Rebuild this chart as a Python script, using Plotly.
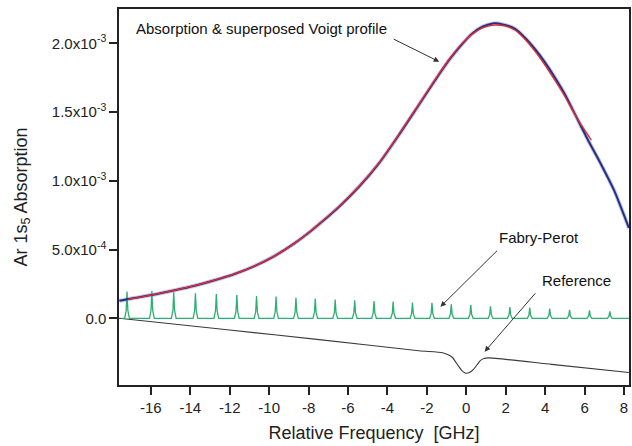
import plotly.graph_objects as go

# ---------------- data ----------------
# Measured absorption (blue)
abs_x = [-17.6, -17.15, -15.96, -14.79, -13.78, -12.77, -11.76, -10.74, -9.73, -8.72,
         -7.88, -7.46, -6.45, -5.44, -4.43, -3.42, -2.41, -1.40, -0.81, -0.3,
         0.29, 0.8, 1.4, 1.9, 2.48, 2.98, 3.5, 4.0, 4.5, 5.0,
         5.6, 6.2, 6.8, 7.5, 8.25]
abs_y = [1.27e-4, 1.40e-4, 1.69e-4, 2.04e-4, 2.37e-4, 2.77e-4, 3.22e-4, 3.80e-4, 4.53e-4, 5.45e-4,
         6.35e-4, 6.85e-4, 8.12e-4, 9.57e-4, 1.127e-3, 1.333e-3, 1.551e-3, 1.770e-3, 1.890e-3, 1.980e-3,
         2.070e-3, 2.120e-3, 2.145e-3, 2.135e-3, 2.105e-3, 2.040e-3, 1.955e-3, 1.860e-3, 1.750e-3, 1.630e-3,
         1.460e-3, 1.290e-3, 1.130e-3, 9.30e-4, 6.57e-4]

# Superposed Voigt profile (red)
voigt_x = [-17.15, -15.96, -14.79, -13.78, -12.77, -11.76, -10.74, -9.73, -8.72, -7.88,
           -7.46, -6.45, -5.44, -4.43, -3.42, -2.41, -1.40, -0.81, -0.3, 0.29,
           0.8, 1.4, 1.9, 2.48, 2.98, 3.5, 4.0, 4.5, 5.0, 5.6, 6.35]
voigt_y = [1.38e-4, 1.69e-4, 2.04e-4, 2.38e-4, 2.78e-4, 3.23e-4, 3.80e-4, 4.52e-4, 5.45e-4, 6.36e-4,
           6.87e-4, 8.14e-4, 9.60e-4, 1.130e-3, 1.337e-3, 1.556e-3, 1.776e-3, 1.895e-3, 1.985e-3, 2.065e-3,
           2.110e-3, 2.132e-3, 2.128e-3, 2.095e-3, 2.030e-3, 1.940e-3, 1.840e-3, 1.730e-3, 1.615e-3, 1.460e-3,
           1.295e-3]

# Fabry-Perot transmission peaks (green): centres [GHz] and heights
fp_center = [-17.21, -15.95, -14.84, -13.74, -12.68, -11.64, -10.64, -9.65, -8.64, -7.66,
             -6.65, -5.66, -4.68, -3.71, -2.73, -1.74, -0.76, 0.23, 1.23, 2.21,
             3.22, 4.23, 5.24, 6.25, 7.28]
fp_height = [1.94e-4, 1.99e-4, 1.89e-4, 1.82e-4, 1.77e-4, 1.70e-4, 1.62e-4, 1.58e-4, 1.50e-4, 1.43e-4,
             1.36e-4, 1.31e-4, 1.26e-4, 1.21e-4, 1.14e-4, 1.12e-4, 1.02e-4, 0.97e-4, 0.87e-4, 0.82e-4,
             0.78e-4, 0.70e-4, 0.61e-4, 0.58e-4, 0.51e-4]
fp_start, fp_end = -17.5, 8.25

# Reference cell signal (black)
ref_x = [-17.62, -12.0, -7.46, -2.41, -1.2, -0.89, -0.7, -0.55, -0.38, -0.22,
         -0.08, 0.03, 0.18, 0.37, 0.55, 0.71, 0.9, 1.13, 4.33, 8.25]
ref_y = [0.0, -0.855e-4, -1.55e-4, -2.36e-4, -2.50e-4, -2.67e-4, -2.85e-4, -3.15e-4, -3.50e-4, -3.81e-4,
         -3.96e-4, -4.00e-4, -3.92e-4, -3.71e-4, -3.38e-4, -3.08e-4, -2.93e-4, -2.88e-4, -3.35e-4, -3.94e-4]

# axis ticks
x_ticks = [-16, -14, -12, -10, -8, -6, -4, -2, 0, 2, 4, 6, 8]
x_tick_text = ["-16", "-14", "-12", "-10", "-8", "-6", "-4", "-2", "0", "2", "4", "6", "8"]
y_ticks = [0.0, 5.0e-4, 1.0e-3, 1.5e-3, 2.0e-3]
y_tick_text = ["0.0", "5.0x10<sup>-4</sup>", "1.0x10<sup>-3</sup>",
               "1.5x10<sup>-3</sup>", "2.0x10<sup>-3</sup>"]

# ---------------- build Fabry-Perot polyline from peak list ----------------
PEAK_W = 0.12  # half width of each drawn peak (style)
fp_x, fp_y = [fp_start], [0.0]
for c, h in zip(fp_center, fp_height):
    fp_x += [c - PEAK_W, c - PEAK_W * 0.35, c, c + PEAK_W * 0.35, c + PEAK_W]
    fp_y += [0.0, h * 0.3, h, h * 0.3, 0.0]
fp_x.append(fp_end)
fp_y.append(0.0)

FONT = "Liberation Sans, Arial, Helvetica, sans-serif"

fig = go.Figure()
fig.add_trace(go.Scatter(x=ref_x, y=ref_y, mode="lines",
                         line=dict(color="#3a3a3a", width=1.1, shape="spline", smoothing=0.6),
                         hoverinfo="skip"))
fig.add_trace(go.Scatter(x=fp_x, y=fp_y, mode="lines",
                         line=dict(color="#2fae72", width=1.3), hoverinfo="skip"))
fig.add_trace(go.Scatter(x=abs_x, y=abs_y, mode="lines",
                         line=dict(color="rgba(120,130,200,0.45)", width=4.0, shape="spline", smoothing=0.6),
                         hoverinfo="skip"))
fig.add_trace(go.Scatter(x=abs_x, y=abs_y, mode="lines",
                         line=dict(color="#24307f", width=2.0, shape="spline", smoothing=0.6),
                         hoverinfo="skip"))
fig.add_trace(go.Scatter(x=voigt_x, y=voigt_y, mode="lines",
                         line=dict(color="#e8262c", width=1.3, shape="spline", smoothing=0.6),
                         hoverinfo="skip"))

ARROW = dict(showarrow=True, arrowhead=2, arrowsize=1.1, arrowwidth=1,
             arrowcolor="#333333", axref="x", ayref="y", text="")
annotations = [
    dict(x=-16.874, y=2.111e-3, text="Absorption &amp; superposed Voigt profile",
         showarrow=False, xanchor="left", yanchor="middle",
         font=dict(size=15, color="#111111", family=FONT)),
    dict(x=3.707, y=5.89e-4, text="Fabry-Perot", showarrow=False,
         xanchor="center", yanchor="middle", font=dict(size=15, color="#111111", family=FONT)),
    dict(x=5.592, y=2.73e-4, text="Reference", showarrow=False,
         xanchor="center", yanchor="middle", font=dict(size=15, color="#111111", family=FONT)),
    dict(x=-1.37, y=1.866e-3, ax=-3.76, ay=2.036e-3, **ARROW),
    dict(x=-1.31, y=0.84e-4, ax=1.635, ay=5.02e-4, **ARROW),
    dict(x=0.93, y=-2.43e-4, ax=3.571, ay=1.93e-4, **ARROW),
]

fig.update_layout(
    width=632, height=446,
    margin=dict(l=119, r=1, t=9, b=61),
    paper_bgcolor="white", plot_bgcolor="white",
    showlegend=False,
    font=dict(family=FONT, color="#222222"),
    annotations=annotations,
    xaxis=dict(range=[-17.617, 8.255], tickvals=x_ticks, ticktext=x_tick_text, ticks="outside",
               ticklen=8, tickwidth=1.5, tickcolor="#222222",
               showline=True, linecolor="#222222", linewidth=1.5, mirror=True,
               showgrid=False, zeroline=False,
               tickfont=dict(size=15, family=FONT, color="#222222"),
               title=dict(text="Relative Frequency\u00a0 [GHz]",
                          font=dict(size=18, family=FONT, color="#222222"), standoff=12)),
    yaxis=dict(range=[-4.851e-4, 2.2495e-3], tickvals=y_ticks, ticktext=y_tick_text,
               ticks="outside", ticklen=8, tickwidth=1.5, tickcolor="#222222",
               showline=True, linecolor="#222222", linewidth=1.5, mirror=True,
               showgrid=False, zeroline=False,
               tickfont=dict(size=15, family=FONT, color="#222222"),
               title=dict(text="Ar 1s<sub>5</sub> Absorption",
                          font=dict(size=18, family=FONT, color="#222222"), standoff=20)),
)

fig.write_html("out.html")
